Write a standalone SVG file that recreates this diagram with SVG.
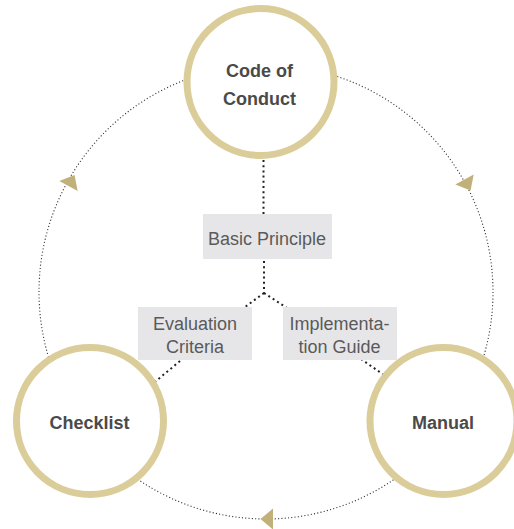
<svg xmlns="http://www.w3.org/2000/svg" width="514" height="529" viewBox="0 0 514 529">
<style>
.ring{fill:#fff;stroke:#dbcd9a;stroke-width:7}
.big{fill:none;stroke:#333;stroke-width:1.1;stroke-dasharray:1.1 2.2}
.dot{fill:none;stroke:#222;stroke-width:2;stroke-dasharray:2 3.2}
.box{fill:#e6e6e8}
.lbl{font-family:"Liberation Sans",Arial,sans-serif;font-weight:bold;font-size:18px;fill:#4a4a4a;text-anchor:middle}
.btx{font-family:"Liberation Sans",Arial,sans-serif;font-size:18px;fill:#5a5a5a;text-anchor:middle}
.arr{fill:#c2b07a}
</style>
<defs>
<path id="ah" d="M0,-10.5 L12.5,0 L0,10.5 Z"/>
</defs>
<g id="connectors">
<circle class="big" cx="266" cy="292" r="227"/>
<use href="#ah" class="arr" transform="translate(273 519) rotate(180)"/>
<use href="#ah" class="arr" transform="translate(68.5 186) rotate(-61)"/>
<use href="#ah" class="arr" transform="translate(464.5 179.5) rotate(61)"/>
<path class="dot" d="M263.5,160 L263.5,214"/>
<path class="dot" d="M264,261 L264,293"/>
<path class="dot" d="M264,293 L245,307"/>
<path class="dot" d="M264,293 L287,308"/>
<path class="dot" d="M180,361 L150,386"/>
<path class="dot" d="M361,359 L394,382"/>
</g>
<g id="node-code">
<circle class="ring" cx="260.5" cy="82" r="73.5"/>
<text class="lbl" x="259.5" y="77">Code of</text>
<text class="lbl" x="259.5" y="105">Conduct</text>
</g>
<g id="node-checklist">
<circle class="ring" cx="90" cy="421" r="73.5"/>
<text class="lbl" x="89.5" y="428.5">Checklist</text>
</g>
<g id="node-manual">
<circle class="ring" cx="443.5" cy="421" r="73.5"/>
<text class="lbl" x="443" y="428.5">Manual</text>
</g>
<g id="box-basic">
<rect class="box" x="203" y="214" width="129" height="45"/>
<text class="btx" x="267" y="245" font-size="17">Basic Principle</text>
</g>
<g id="box-evaluation">
<rect class="box" x="138" y="307" width="114" height="53"/>
<text class="btx" x="195" y="330">Evaluation</text>
<text class="btx" x="195" y="353">Criteria</text>
</g>
<g id="box-implementation">
<rect class="box" x="283" y="307" width="114" height="53"/>
<text class="btx" x="339.5" y="330">Implementa-</text>
<text class="btx" x="339.5" y="353">tion Guide</text>
</g>
</svg>
